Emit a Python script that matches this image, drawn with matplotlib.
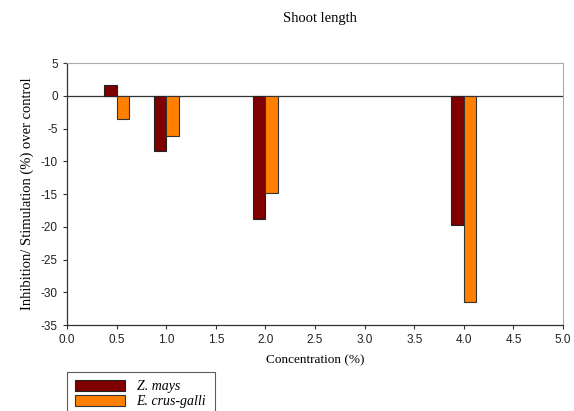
import matplotlib
matplotlib.use("Agg")
import matplotlib.pyplot as plt
import numpy as np

plt.rcParams["axes.unicode_minus"] = False

concentrations = [0.5, 1.0, 2.0, 4.0]
zea_mays = [1.7, -8.5, -18.8, -19.8]
crus_galli = [-3.5, -6.1, -14.8, -31.5]
x_ticks = np.arange(0.0, 5.01, 0.5)
y_ticks = np.arange(-35, 6, 5)

fig = plt.figure(figsize=(5.74, 4.11), dpi=100)
ax = fig.add_axes([0.1167, 0.2092, 0.981 - 0.1167, 0.8467 - 0.2092])

w = 0.125
x = np.array(concentrations)
ax.bar(x - w / 2, zea_mays, width=w, color="#800000", edgecolor="#222222",
       linewidth=0.8, label="Z. mays")
ax.bar(x + w / 2, crus_galli, width=w, color="#ff8000", edgecolor="#333333",
       linewidth=0.8, label="E. crus-galli")
ax.axhline(0, color="#333333", linewidth=0.9, zorder=0)

ax.set_xlim(0, 5)
ax.set_ylim(-35, 5)
ax.set_xticks(x_ticks)
ax.set_xticklabels([f"{v:.1f}" for v in x_ticks])
ax.set_yticks(y_ticks)
ax.tick_params(direction="out", length=3, width=0.8, labelsize=8.5,
               colors="#333333", labelcolor="#222222")
for lab in ax.get_xticklabels() + ax.get_yticklabels():
    lab.set_family("Liberation Sans")

for s in ("left", "bottom"):
    ax.spines[s].set_color("#333333")
    ax.spines[s].set_linewidth(0.9)
for s in ("top", "right"):
    ax.spines[s].set_color("#aaaaaa")
    ax.spines[s].set_linewidth(0.8)

ax.set_xlabel("Concentration (%)", family="Liberation Serif", fontsize=9.5,
              labelpad=6)
ax.set_ylabel("Inhibition/ Stimulation (%) over control", family="Liberation Serif",
              fontsize=10.5, labelpad=5)
fig.text(0.557, 0.955, "Shoot length", family="Liberation Serif", fontsize=10.5,
         ha="center", va="center")

leg = fig.legend(loc="upper left", bbox_to_anchor=(0.117, 0.095), frameon=True,
                 borderaxespad=0, fancybox=False, edgecolor="#333333",
                 handlelength=3.6, handleheight=0.75, handletextpad=0.8,
                 borderpad=0.6, labelspacing=0.15,
                 prop={"family": "Liberation Serif", "style": "italic", "size": 10})
leg.get_frame().set_linewidth(0.8)

fig.savefig("out.png", dpi=100)
